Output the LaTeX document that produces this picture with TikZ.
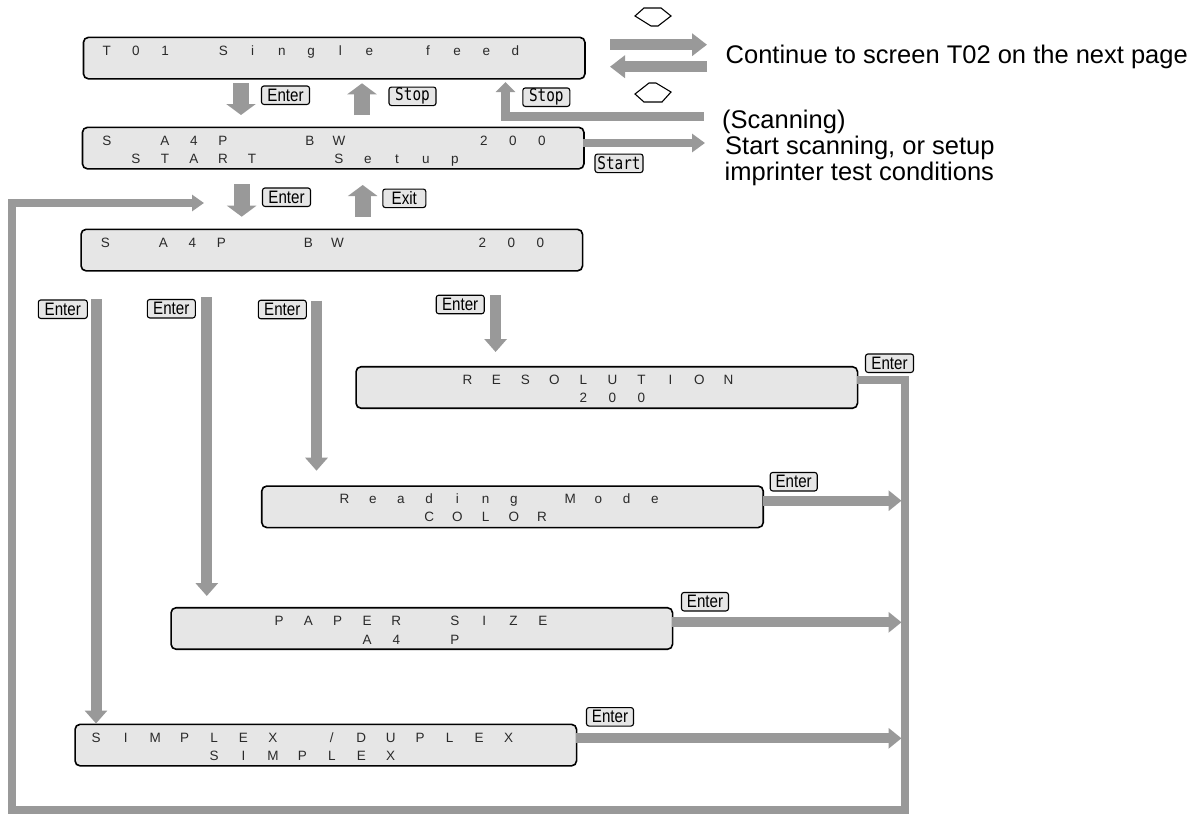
\documentclass[tikz,border=0pt]{standalone}
\usepackage{fontspec}
\setmainfont{Liberation Sans}
\newfontfamily\lcdfam{Liberation Sans}
\newfontfamily\keyfam{Liberation Sans}[FakeStretch=0.84]
\newfontfamily\keymono{DejaVu Sans Mono}[FakeStretch=0.82]
\usetikzlibrary{arrows.meta}
\definecolor{agray}{HTML}{999999}
\definecolor{lcdfill}{HTML}{E6E6E6}
\definecolor{lcdtext}{HTML}{2A2A2A}
\newlength\lcdp
\def\lcdend{\lcdend}
\def\lcd#1#2{\setlength\lcdp{#1pt}\lcdaux#2\lcdend}
\def\lcdaux#1{\ifx#1\lcdend\else\makebox[\lcdp]{#1}\expandafter\lcdaux\fi}
\tikzset{
  lcdbox/.style={draw=black, line width=1.6pt, fill=lcdfill, rounded corners=5pt,
    minimum width=501.5pt, minimum height=41.5pt, inner sep=0pt},
  lcdline/.style={anchor=base west, inner sep=0pt, text=lcdtext,
    font=\lcdfam\fontsize{13.5pt}{13.5pt}\selectfont},
  keybox/.style={draw=black, line width=1.1pt, fill=lcdfill, rounded corners=2.5pt,
    inner sep=0pt, minimum height=18.5pt, minimum width=#1,
    font=\keyfam\fontsize{18pt}{18pt}\selectfont},
  keymonobox/.style={keybox=#1, font=\keymono\fontsize{17.5pt}{17.5pt}\selectfont},
  fatarrow/.style={draw=agray, line width=16pt, -{Triangle[length=11pt,width=29pt]}},
  longarrow/.style={draw=agray, line width=11pt, -{Triangle[length=13pt,width=22pt]}},
  sidearrow/.style={draw=agray, line width=10pt, -{Triangle[length=13pt,width=20pt]}},
  pagearrow/.style={draw=agray, line width=11pt, -{Triangle[length=15pt,width=22pt]}},
  flowarrow/.style={draw=agray, line width=7.5pt, -{Triangle[length=12pt,width=16pt]}},
  keysym/.style={draw=black, line width=1.1pt, fill=white},
  sidetext/.style={anchor=base west, inner sep=0pt, font=\fontsize{25.5pt}{25.5pt}\selectfont}
}
\begin{document}
\begin{tikzpicture}[x=1pt,y=-1pt]
\useasboundingbox (0,0) rectangle (1202,814);

% ---------- LCD boxes ----------
\node[lcdbox] (t01) at (334.2,58.1) {};
\node[lcdline] (t01a) at (91.9,55.2) {\lcd{29.2}{T01~Single~feed}};

\node[lcdbox] (scan) at (333.2,148.1) {};
\node[lcdline] (scana) at (92.3,145.4) {\lcd{29.0}{S~A4P~~BW~~~~200}};
\node[lcdline] (scanb) at (92.3,163.4) {\lcd{29.0}{~START~~Setup}};

\node[lcdbox] (stat) at (331.8,250.1) {};
\node[lcdline] (stata) at (90.7,247.4) {\lcd{29.0}{S~A4P~~BW~~~~200}};

\node[lcdbox] (res) at (606.8,387.5) {};
\node[lcdline] (resa) at (365.8,384.8) {\lcd{29.0}{~~~RESOLUTION}};
\node[lcdline] (resb) at (365.8,402.8) {\lcd{29.0}{~~~~~~~200}};

\node[lcdbox] (mode) at (512.5,506.8) {};
\node[lcdline] (modea) at (273.9,503.6) {\lcd{28.2}{~~Reading~Mode}};
\node[lcdline] (modeb) at (273.9,521.8) {\lcd{28.2}{~~~~~COLOR}};

\node[lcdbox] (paper) at (421.8,628.5) {};
\node[lcdline] (papera) at (176.4,625.6) {\lcd{29.3}{~~~PAPER~SIZE}};
\node[lcdline] (paperb) at (176.4,644.0) {\lcd{29.3}{~~~~~~A4~P}};

\node[lcdbox] (duplex) at (325.8,745.1) {};
\node[lcdline] (duplexa) at (81.3,742.4) {\lcd{29.45}{SIMPLEX~/DUPLEX}};
\node[lcdline] (duplexb) at (81.3,760.8) {\lcd{29.45}{~~~~SIMPLEX}};

% ---------- keys ----------
\node[keybox=48pt] (kEnterA) at (285.5,95.2) {Enter};
\node[keymonobox=47pt] (kStopA) at (412.5,96.3) {Stop};
\node[keymonobox=47pt] (kStopB) at (546.3,97.2) {Stop};
\node[keymonobox=48pt] (kStart) at (619,163.3) {Start};
\node[keybox=48pt] (kEnterB) at (286.5,197.2) {Enter};
\node[keybox=43pt] (kExit) at (404.3,198.3) {Exit};
\node[keybox=49pt] (kE1) at (62.8,309.2) {Enter};
\node[keybox=48pt] (kE2) at (171.3,308.7) {Enter};
\node[keybox=48pt] (kE3) at (282.3,309.5) {Enter};
\node[keybox=48pt] (kE4) at (460.2,304.5) {Enter};
\node[keybox=48pt] (kE5) at (889.5,363.2) {Enter};
\node[keybox=47pt] (kE6) at (793.7,481.7) {Enter};
\node[keybox=47pt] (kE7) at (705,601.7) {Enter};
\node[keybox=47pt] (kE8) at (610,716.8) {Enter};

% ---------- side texts ----------
\node[sidetext] (txtnext) at (725.5,63) {Continue to screen T02 on the next page};
\node[sidetext] (txtscan) at (722,128.5) {(Scanning)};
\node[sidetext] (txtstart) at (725,154.5) {Start scanning, or setup};
\node[sidetext] (txtimp) at (724.5,180.5) {imprinter test conditions};

% ---------- coordinates ----------
\coordinate (d1s) at (241,83.3);   \coordinate (d1e) at (241,115);
\coordinate (u1s) at (362,115);    \coordinate (u1e) at (362,83.3);
\coordinate (stopS) at (703.5,116.7); \coordinate (stopM) at (505.5,116.7); \coordinate (stopE) at (505.5,82);
\coordinate (nx1s) at (610,44.7);  \coordinate (nx1e) at (707,44.7);
\coordinate (nx2s) at (707,66.7);  \coordinate (nx2e) at (610,66.7);
\coordinate (startS) at (583.3,143); \coordinate (startE) at (705,143);
\coordinate (d2s) at (241.7,184);  \coordinate (d2e) at (241.7,216.7);
\coordinate (u2s) at (362.7,216.7); \coordinate (u2e) at (362.7,185);
\coordinate (v1s) at (96,299);     \coordinate (v1e) at (96,723.5);
\coordinate (v2s) at (206.8,297);  \coordinate (v2e) at (206.8,596);
\coordinate (v3s) at (316.5,300.7); \coordinate (v3e) at (316.5,470.7);
\coordinate (v4s) at (495.6,295);  \coordinate (v4e) at (495.6,352);
\coordinate (resout) at (857.3,380);
\coordinate (rtop) at (905,380);
\coordinate (rbot) at (905,810);
\coordinate (lbot) at (12,810);
\coordinate (ltop) at (12,203);
\coordinate (loopE) at (204,203);
\coordinate (modeout) at (763.3,500.7); \coordinate (modein) at (901.5,500.7);
\coordinate (paperout) at (671.5,622.3); \coordinate (paperin) at (901.5,622.3);
\coordinate (dupout) at (575.5,738.3); \coordinate (dupin) at (901.5,738.3);

% ---------- arrows ----------
\draw[fatarrow] (d1s) -- (d1e);
\draw[fatarrow] (u1s) -- (u1e);
\draw[draw=agray, line width=8.5pt, -{Triangle[length=10pt,width=19pt]}] (stopS) -- (stopM) -- (stopE);
\draw[pagearrow] (nx1s) -- (nx1e);
\draw[pagearrow] (nx2s) -- (nx2e);
\draw[draw=agray, line width=8pt, -{Triangle[length=13pt,width=18pt]}] (startS) -- (startE);
\draw[fatarrow] (d2s) -- (d2e);
\draw[fatarrow] (u2s) -- (u2e);
\draw[longarrow] (v1s) -- (v1e);
\draw[longarrow] (v2s) -- (v2e);
\draw[longarrow] (v3s) -- (v3e);
\draw[longarrow] (v4s) -- (v4e);
\draw[flowarrow] (resout) -- (rtop) -- (rbot) -- (lbot) -- (ltop) -- (loopE);
\draw[sidearrow] (modeout) -- (modein);
\draw[sidearrow] (paperout) -- (paperin);
\draw[sidearrow] (dupout) -- (dupin);

% ---------- key symbols ----------
\draw[keysym] (635,16) -- (644,8) -- (661,8) -- (671,16) -- (658,26) -- (651,26) -- cycle;
\draw[keysym] (635,94) -- (649,83) -- (656,83) -- (671,92) -- (662,102) -- (644,102) -- cycle;
\end{tikzpicture}
\end{document}
